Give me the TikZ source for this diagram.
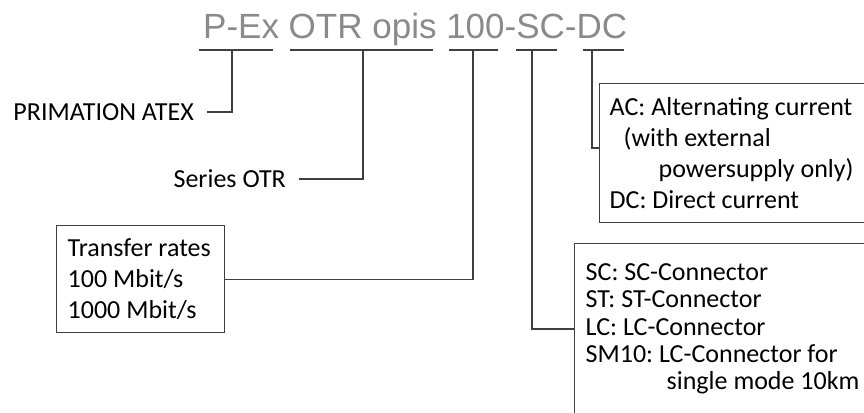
\documentclass[tikz,border=0pt]{standalone}
\usepackage{fontspec}
\setmainfont{Carlito}
\newfontfamily\codefont{Liberation Sans}
\usepackage{tikz}
\usetikzlibrary{positioning, calc}
\definecolor{codegray}{HTML}{8A8A8A}
\definecolor{wire}{HTML}{3F3F3F}

\begin{document}
\frenchspacing
\begin{tikzpicture}[
    x=1pt, y=-1pt,
    font=\fontsize{26}{31}\selectfont,
    code/.style={font=\codefont\fontsize{35}{42}\selectfont, text=codegray, inner sep=0pt},
    lbl/.style={inner ysep=0pt, inner xsep=13pt, text=black},
    keybox/.style={draw=wire, line width=1.4pt, align=flush left, inner xsep=11pt, text=black},
    link/.style={draw=wire, line width=1.4pt},
    bar/.style={draw=wire, line width=1.4pt},
  ]
  \path[use as bounding box, clip] (0,0) rectangle (864,412);
  % ------------------------------------------------------------------ type code with one bar per field
  \node[code, anchor=base west] (code) at (203,38) {P-Ex OTR opis 100-SC-DC};
  \foreach \a/\b in {199/273, 290/433, 449/498, 516/557, 583/624} {
    \draw[bar] (\a,50) -- (\b,50);
  }
  \coordinate (u1) at (232,50);
  \coordinate (u2) at (363,50);
  \coordinate (u3) at (473,50);
  \coordinate (u4) at (532,50);
  \coordinate (u5) at (592,50);
  % ------------------------------------------------------------------ plain labels
  \node[lbl, anchor=east] (atex) at (207,112) {PRIMATION ATEX};
  \node[lbl, anchor=east] (series) at (299,179) {Series OTR};
  % ------------------------------------------------------------------ boxed keys
  \node[keybox, anchor=north west, text width=146pt, minimum height=107pt] (rates) at (56,225)
    {Transfer rates\\100 Mbit/s\\1000 Mbit/s};
  \node[keybox, anchor=north west, text width=270pt, minimum height=139pt, inner xsep=10pt] (power) at (599,83)
    {AC: Alternating current\\\hspace*{14pt}(with external\\\hspace*{49pt}powersupply only)\\DC: Direct current};
  \node[keybox, anchor=north west, text width=280pt, inner ysep=20pt, text depth=120pt,
        font=\fontsize{26}{27.3}\selectfont] (plug) at (574,243)
    {SC: SC-Connector\\ST: ST-Connector\\LC: LC-Connector\\SM10: LC-Connector for\\\hspace*{81pt}single mode 10km};
  % ------------------------------------------------------------------ connectors
  \draw[link] (atex.east) -| (u1);
  \draw[link] (series.east) -| (u2);
  \draw[link] (rates.east) -| (u3);
  \coordinate (j4) at (532,329);
  \draw[link] (u4) -- (j4) -- (j4 -| plug.west);
  \coordinate (j5) at (592,148);
  \draw[link] (u5) -- (j5) -- (j5 -| power.west);
\end{tikzpicture}
\end{document}
